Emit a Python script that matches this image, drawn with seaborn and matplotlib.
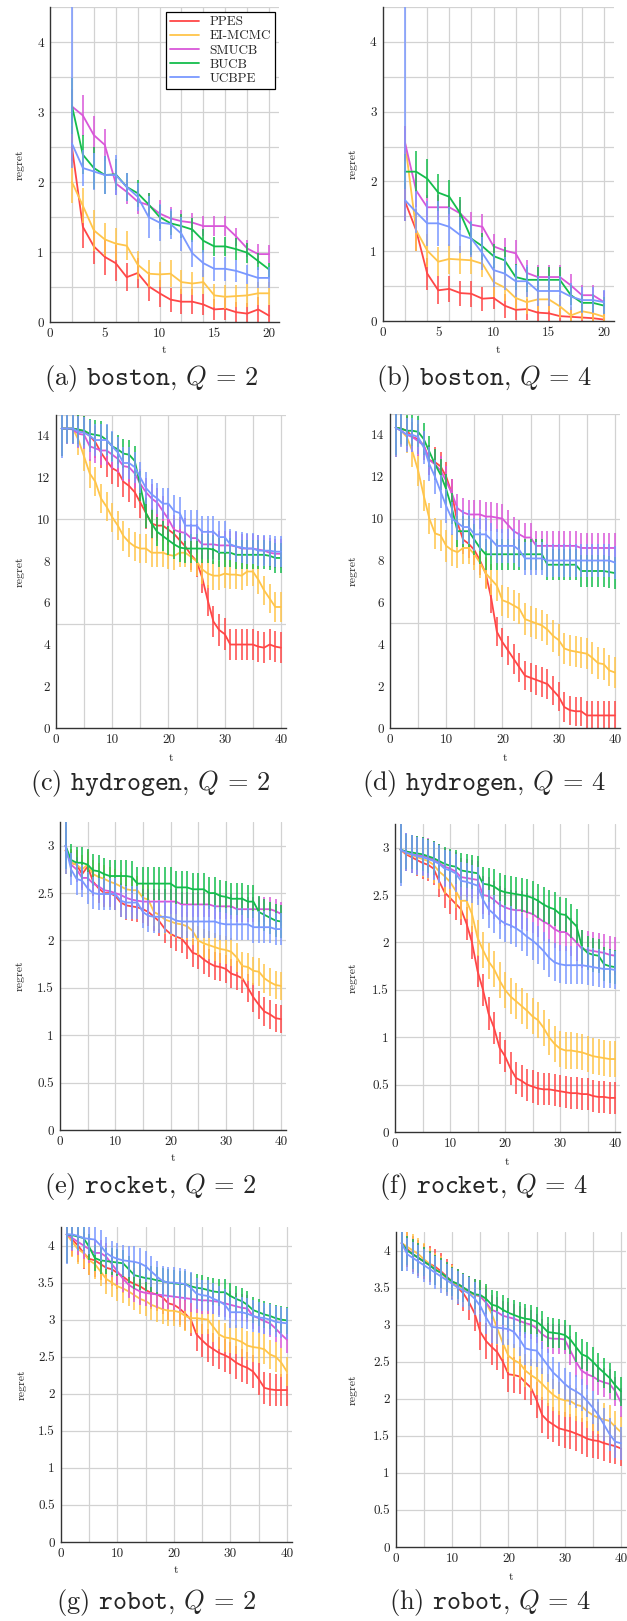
import numpy as np
import pandas as pd
import matplotlib
matplotlib.use("Agg")
import matplotlib.pyplot as plt
import seaborn as sns
from matplotlib.ticker import FuncFormatter

METHODS = ["PPES", "EI-MCMC", "SMUCB", "BUCB", "UCBPE"]
COLORS = {"PPES": "#ff4747", "EI-MCMC": "#ffc54a", "SMUCB": "#d957d9",
          "BUCB": "#14bd4c", "UCBPE": "#7a98ff"}

T_BOSTON = list(range(2, 21))
T_LONG = list(range(1, 41))

# ---------------- (a) boston, Q=2 ----------------
BOSTON_Q2 = {
    "PPES":    [2.50,1.36,1.08,0.93,0.84,0.64,0.70,0.51,0.41,0.32,0.29,0.29,0.25,0.18,0.19,0.14,0.12,0.18,0.09],
    "EI-MCMC": [2.00,1.66,1.31,1.18,1.12,1.09,0.82,0.69,0.68,0.69,0.57,0.55,0.57,0.38,0.36,0.37,0.38,0.41,0.41],
    "SMUCB":   [3.08,2.95,2.67,2.53,1.98,1.86,1.72,1.67,1.55,1.48,1.44,1.42,1.37,1.37,1.37,1.22,1.05,0.97,0.97],
    "BUCB":    [3.09,2.39,2.20,2.10,2.11,1.93,1.84,1.68,1.50,1.41,1.37,1.32,1.16,1.08,1.08,1.04,0.99,0.87,0.75],
    "UCBPE":   [2.55,2.20,2.15,2.10,2.10,1.93,1.79,1.50,1.42,1.40,1.26,0.98,0.84,0.76,0.76,0.73,0.68,0.63,0.63],
}
BOSTON_Q2_ERR = {
    "PPES":    [0.30,0.30,0.25,0.26,0.26,0.20,0.21,0.21,0.19,0.17,0.18,0.18,0.15,0.15,0.16,0.15,0.15,0.18,0.15],
    "EI-MCMC": [0.30,0.25,0.29,0.24,0.23,0.21,0.20,0.19,0.18,0.19,0.17,0.17,0.17,0.17,0.17,0.16,0.16,0.16,0.16],
    "SMUCB":   [0.25,0.29,0.27,0.23,0.17,0.17,0.18,0.17,0.19,0.17,0.16,0.14,0.14,0.14,0.14,0.13,0.12,0.14,0.13],
    "BUCB":    [0.40,0.28,0.30,0.27,0.22,0.20,0.19,0.17,0.17,0.17,0.17,0.17,0.17,0.14,0.14,0.16,0.14,0.12,0.10],
    "UCBPE":   [0.35,0.26,0.27,0.27,0.28,0.20,0.20,0.30,0.26,0.21,0.24,0.19,0.19,0.17,0.17,0.16,0.13,0.15,0.15],
}
BOSTON_Q2_FIRST_UPPER = {"UCBPE": 2.3}

# ---------------- (b) boston, Q=4 ----------------
BOSTON_Q4 = {
    "PPES":    [1.71,1.30,0.68,0.44,0.46,0.40,0.39,0.32,0.33,0.22,0.16,0.17,0.12,0.11,0.07,0.06,0.05,0.04,0.02],
    "EI-MCMC": [2.55,1.30,1.01,0.85,0.89,0.88,0.87,0.82,0.56,0.48,0.33,0.27,0.31,0.31,0.21,0.08,0.14,0.11,0.06],
    "SMUCB":   [2.55,1.87,1.63,1.63,1.63,1.54,1.38,1.35,1.07,1.01,0.97,0.69,0.63,0.63,0.63,0.51,0.37,0.37,0.27],
    "BUCB":    [2.14,2.14,2.04,1.84,1.78,1.54,1.18,1.07,0.93,0.87,0.63,0.59,0.59,0.59,0.59,0.37,0.26,0.26,0.22],
    "UCBPE":   [1.73,1.56,1.40,1.40,1.35,1.23,1.18,0.97,0.73,0.68,0.57,0.57,0.43,0.43,0.43,0.35,0.30,0.30,0.27],
}
BOSTON_Q4_ERR = {
    "PPES":    [0.27,0.30,0.23,0.20,0.19,0.18,0.19,0.17,0.16,0.17,0.15,0.15,0.14,0.13,0.12,0.11,0.10,0.10,0.09],
    "EI-MCMC": [0.25,0.30,0.24,0.21,0.21,0.20,0.20,0.19,0.21,0.20,0.16,0.17,0.17,0.17,0.16,0.12,0.13,0.13,0.10],
    "SMUCB":   [0.25,0.24,0.18,0.18,0.18,0.19,0.18,0.19,0.18,0.18,0.19,0.18,0.17,0.17,0.17,0.17,0.15,0.15,0.16],
    "BUCB":    [0.25,0.29,0.28,0.26,0.24,0.24,0.24,0.19,0.17,0.19,0.19,0.18,0.18,0.18,0.18,0.14,0.13,0.13,0.12],
    "UCBPE":   [0.30,0.30,0.32,0.32,0.28,0.26,0.26,0.24,0.24,0.24,0.23,0.23,0.21,0.21,0.21,0.19,0.19,0.19,0.17],
}
BOSTON_Q4_FIRST_UPPER = {"UCBPE": 3.0}

# ---------------- (c) hydrogen, Q=2 ----------------
HYDROGEN_Q2 = {
    "PPES":    [14.35,14.35,14.35,14.3,14.2,14.0,13.7,13.2,12.8,12.45,12.3,11.8,11.6,11.3,10.8,10.3,9.8,9.7,9.7,9.5,9.3,9.0,8.7,8.3,8.0,7.2,6.1,5.1,4.7,4.5,4.0,4.0,4.0,4.0,4.0,3.9,3.85,4.0,3.9,3.85],
    "EI-MCMC": [14.35,14.35,14.35,13.8,13.0,12.2,11.8,11.0,10.6,10.1,9.7,9.2,8.9,8.7,8.6,8.6,8.4,8.4,8.4,8.3,8.25,8.4,8.4,8.2,8.0,7.6,7.4,7.3,7.3,7.4,7.35,7.35,7.3,7.5,7.5,7.1,6.6,6.2,5.8,5.8],
    "SMUCB":   [14.35,14.35,14.3,14.1,14.05,13.5,13.4,13.3,13.3,13.1,12.9,12.55,12.5,12.2,11.7,11.3,11.0,10.8,10.4,10.0,9.5,9.4,9.35,9.1,9.1,8.8,8.8,8.8,8.75,8.75,8.75,8.7,8.6,8.6,8.6,8.55,8.5,8.4,8.35,8.35],
    "BUCB":    [14.35,14.35,14.35,14.3,14.25,14.1,14.05,14.0,13.8,13.5,13.35,13.15,13.1,12.8,11.6,10.3,9.8,9.4,9.2,9.0,8.8,8.65,8.6,8.6,8.6,8.6,8.6,8.55,8.4,8.4,8.4,8.3,8.3,8.3,8.3,8.3,8.3,8.25,8.15,8.15],
    "UCBPE":   [14.35,14.35,14.35,14.2,14.15,14.0,13.8,13.8,13.8,13.5,13.2,12.7,12.7,12.5,12.0,11.5,11.2,11.0,10.75,10.75,10.4,10.3,9.7,9.7,9.7,9.4,9.4,9.4,9.15,9.15,8.8,8.7,8.65,8.6,8.6,8.5,8.5,8.5,8.45,8.45],
}
HYDROGEN_Q2_ERR = {"PPES": (1.3, 0.75), "EI-MCMC": (1.3, 0.7), "SMUCB": (1.3, 0.7),
                   "BUCB": (1.3, 0.7), "UCBPE": (1.4, 0.75)}

# ---------------- (d) hydrogen, Q=4 ----------------
HYDROGEN_Q4 = {
    "PPES":    [14.35,14.3,14.2,13.9,13.8,13.5,12.8,12.7,12.5,12.0,11.2,9.8,9.0,8.8,8.5,8.0,7.4,6.2,4.6,4.1,3.7,3.3,2.9,2.5,2.4,2.3,2.2,2.1,1.8,1.5,1.0,0.85,0.8,0.8,0.6,0.6,0.6,0.6,0.6,0.6],
    "EI-MCMC": [14.35,14.2,13.9,13.2,12.3,11.1,10.0,9.3,9.2,8.7,8.5,8.4,8.6,8.6,8.3,7.9,7.4,7.1,6.8,6.1,6.0,5.85,5.7,5.2,5.1,5.0,4.9,4.7,4.4,4.2,3.8,3.7,3.65,3.6,3.55,3.35,3.1,3.05,2.75,2.65],
    "SMUCB":   [14.35,14.2,14.0,13.9,13.7,13.5,12.8,12.6,12.3,11.8,11.2,10.5,10.3,10.2,10.2,10.2,10.1,10.1,10.05,10.0,9.7,9.4,9.25,9.1,9.1,8.7,8.7,8.7,8.7,8.7,8.7,8.7,8.7,8.6,8.6,8.6,8.6,8.6,8.6,8.6],
    "BUCB":    [14.35,14.3,14.2,14.2,14.15,13.8,13.2,12.6,12.1,11.4,10.5,9.4,9.4,9.4,9.0,8.6,8.3,8.3,8.3,8.3,8.3,8.3,8.3,8.3,8.3,8.3,8.3,7.8,7.8,7.8,7.8,7.8,7.8,7.5,7.5,7.5,7.5,7.5,7.45,7.4],
    "UCBPE":   [14.35,14.2,14.0,14.0,13.9,13.4,12.6,12.0,11.3,10.6,10.0,9.8,9.6,9.6,9.25,9.25,9.25,9.0,8.7,8.7,8.7,8.7,8.5,8.1,8.1,8.1,8.1,8.0,8.0,8.0,8.0,8.0,8.0,8.0,8.0,8.0,8.0,8.0,8.0,7.9],
}
HYDROGEN_Q4_ERR = {"PPES": (1.4, 0.7), "EI-MCMC": (1.3, 0.75), "SMUCB": (1.3, 0.7),
                   "BUCB": (1.3, 0.75), "UCBPE": (1.4, 0.8)}

# ---------------- (e) rocket, Q=2 ----------------
ROCKET_Q2 = {
    "PPES":    [2.95,2.82,2.8,2.7,2.78,2.62,2.55,2.5,2.5,2.47,2.4,2.37,2.36,2.35,2.33,2.3,2.25,2.2,2.12,2.07,2.04,2.02,1.95,1.87,1.85,1.8,1.76,1.73,1.72,1.7,1.65,1.63,1.6,1.5,1.4,1.32,1.25,1.22,1.18,1.17],
    "EI-MCMC": [2.95,2.82,2.8,2.75,2.8,2.7,2.67,2.65,2.62,2.6,2.57,2.54,2.53,2.53,2.45,2.43,2.3,2.27,2.22,2.2,2.18,2.17,2.15,2.1,2.0,1.97,1.95,1.93,1.91,1.9,1.88,1.82,1.73,1.72,1.68,1.67,1.6,1.56,1.53,1.52],
    "SMUCB":   [3.0,2.8,2.75,2.66,2.66,2.6,2.57,2.53,2.52,2.5,2.48,2.45,2.43,2.42,2.41,2.41,2.41,2.41,2.41,2.41,2.41,2.38,2.38,2.38,2.38,2.38,2.38,2.36,2.36,2.36,2.36,2.33,2.33,2.33,2.33,2.33,2.33,2.33,2.31,2.28],
    "BUCB":    [3.0,2.85,2.82,2.82,2.8,2.74,2.73,2.7,2.68,2.68,2.68,2.68,2.67,2.6,2.6,2.6,2.6,2.6,2.6,2.6,2.56,2.56,2.56,2.54,2.54,2.54,2.5,2.5,2.47,2.46,2.44,2.44,2.44,2.41,2.41,2.3,2.27,2.24,2.21,2.2],
    "UCBPE":   [3.0,2.75,2.65,2.63,2.55,2.5,2.49,2.49,2.49,2.49,2.42,2.4,2.4,2.4,2.3,2.26,2.25,2.25,2.25,2.24,2.21,2.2,2.2,2.2,2.2,2.2,2.2,2.2,2.18,2.17,2.17,2.17,2.17,2.17,2.14,2.14,2.14,2.14,2.12,2.12],
}
ROCKET_Q2_ERR = {"PPES": (0.25, 0.15), "EI-MCMC": (0.25, 0.15), "SMUCB": (0.25, 0.13),
                 "BUCB": (0.25, 0.17), "UCBPE": (0.3, 0.17)}

# ---------------- (f) rocket, Q=4 ----------------
ROCKET_Q4 = {
    "PPES":    [2.98,2.93,2.9,2.87,2.84,2.82,2.78,2.65,2.53,2.47,2.41,2.35,2.2,2.0,1.7,1.5,1.25,1.1,0.89,0.8,0.67,0.57,0.54,0.5,0.48,0.46,0.45,0.45,0.44,0.43,0.42,0.41,0.41,0.4,0.4,0.38,0.37,0.37,0.36,0.36],
    "EI-MCMC": [2.98,2.94,2.92,2.9,2.88,2.86,2.82,2.75,2.7,2.64,2.55,2.44,2.44,2.3,2.05,1.92,1.8,1.72,1.6,1.5,1.43,1.38,1.33,1.28,1.22,1.18,1.1,1.0,0.93,0.88,0.86,0.86,0.85,0.84,0.82,0.8,0.79,0.78,0.77,0.77],
    "SMUCB":   [2.98,2.95,2.93,2.92,2.91,2.9,2.87,2.84,2.8,2.78,2.75,2.69,2.68,2.67,2.66,2.5,2.49,2.45,2.4,2.37,2.35,2.34,2.34,2.32,2.3,2.26,2.22,2.19,2.14,2.11,2.11,2.06,2.0,1.93,1.92,1.91,1.9,1.89,1.87,1.86],
    "BUCB":    [2.98,2.96,2.95,2.94,2.93,2.91,2.89,2.86,2.83,2.81,2.8,2.76,2.75,2.74,2.73,2.62,2.61,2.59,2.55,2.53,2.52,2.51,2.5,2.49,2.47,2.44,2.4,2.37,2.35,2.3,2.29,2.23,2.17,1.95,1.89,1.87,1.86,1.77,1.75,1.74],
    "UCBPE":   [2.98,2.95,2.93,2.91,2.9,2.88,2.86,2.83,2.78,2.76,2.73,2.65,2.64,2.62,2.6,2.45,2.35,2.3,2.24,2.2,2.18,2.15,2.11,2.06,2.02,1.97,1.91,1.84,1.79,1.77,1.76,1.76,1.76,1.76,1.75,1.74,1.73,1.72,1.72,1.71],
}
ROCKET_Q4_ERR = {"PPES": (0.35, 0.17), "EI-MCMC": (0.35, 0.19), "SMUCB": (0.35, 0.2),
                 "BUCB": (0.35, 0.18), "UCBPE": (0.38, 0.2)}

# ---------------- (g) robot, Q=2 ----------------
ROBOT_Q2 = {
    "PPES":    [4.15,4.08,4.0,3.9,3.82,3.8,3.75,3.7,3.68,3.63,3.58,3.52,3.48,3.45,3.4,3.36,3.34,3.3,3.22,3.2,3.15,3.08,3.0,2.8,2.72,2.65,2.6,2.55,2.52,2.48,2.42,2.38,2.35,2.3,2.2,2.08,2.06,2.05,2.05,2.05],
    "EI-MCMC": [4.15,4.05,3.95,3.9,3.8,3.75,3.65,3.55,3.5,3.45,3.42,3.38,3.33,3.28,3.25,3.2,3.17,3.14,3.12,3.12,3.1,3.05,3.02,3.02,3.01,3.0,2.9,2.8,2.76,2.75,2.73,2.7,2.65,2.63,2.62,2.6,2.53,2.5,2.42,2.3],
    "SMUCB":   [4.15,4.1,4.05,4.0,3.95,3.9,3.9,3.85,3.75,3.65,3.55,3.47,3.42,3.38,3.36,3.35,3.34,3.33,3.32,3.31,3.3,3.29,3.28,3.27,3.26,3.26,3.25,3.24,3.22,3.2,3.18,3.16,3.15,3.05,3.02,2.98,2.95,2.88,2.8,2.73],
    "BUCB":    [4.15,4.14,4.12,4.1,3.98,3.83,3.8,3.79,3.78,3.77,3.76,3.68,3.6,3.58,3.56,3.55,3.53,3.52,3.5,3.49,3.48,3.48,3.45,3.43,3.42,3.4,3.38,3.37,3.37,3.32,3.28,3.25,3.2,3.13,3.1,3.07,3.05,3.02,3.0,2.99],
    "UCBPE":   [4.15,4.15,4.13,4.1,4.09,4.08,4.0,3.9,3.85,3.82,3.8,3.79,3.78,3.76,3.72,3.65,3.58,3.52,3.5,3.5,3.49,3.48,3.43,3.35,3.33,3.32,3.28,3.25,3.2,3.1,3.1,3.1,3.08,3.05,3.03,3.02,3.0,2.97,2.96,2.95],
}
ROBOT_Q2_ERR = {"PPES": (0.38, 0.22), "EI-MCMC": (0.38, 0.2), "SMUCB": (0.38, 0.18),
                "BUCB": (0.38, 0.18), "UCBPE": (0.4, 0.21)}

# ---------------- (h) robot, Q=4 ----------------
ROBOT_Q4 = {
    "PPES":    [4.1,4.02,3.95,3.9,3.85,3.82,3.78,3.72,3.65,3.58,3.5,3.42,3.3,3.15,2.9,2.78,2.7,2.63,2.5,2.33,2.32,2.3,2.22,2.15,1.98,1.78,1.7,1.65,1.6,1.58,1.56,1.53,1.5,1.46,1.44,1.43,1.4,1.38,1.36,1.33],
    "EI-MCMC": [4.1,4.05,4.0,3.95,3.88,3.82,3.75,3.7,3.62,3.58,3.53,3.48,3.42,3.4,3.38,3.3,3.15,2.95,2.75,2.58,2.52,2.48,2.38,2.32,2.27,2.2,2.12,2.05,2.0,1.98,1.97,1.92,1.9,1.83,1.78,1.74,1.72,1.7,1.62,1.55],
    "SMUCB":   [4.1,4.0,3.95,3.9,3.85,3.8,3.74,3.7,3.64,3.58,3.55,3.5,3.45,3.41,3.38,3.3,3.2,3.17,3.12,3.1,3.08,3.05,3.02,3.0,2.95,2.87,2.82,2.81,2.81,2.8,2.65,2.5,2.38,2.33,2.3,2.25,2.22,2.2,2.1,1.95],
    "BUCB":    [4.1,4.0,3.95,3.9,3.85,3.8,3.74,3.7,3.64,3.58,3.55,3.5,3.45,3.41,3.4,3.35,3.27,3.25,3.2,3.16,3.13,3.1,3.08,3.07,3.04,2.98,2.9,2.89,2.88,2.86,2.8,2.7,2.6,2.57,2.5,2.42,2.35,2.28,2.18,2.1],
    "UCBPE":   [4.1,3.95,3.9,3.85,3.8,3.75,3.7,3.65,3.6,3.55,3.5,3.46,3.42,3.35,3.25,3.1,2.97,2.96,2.95,2.94,2.9,2.8,2.68,2.66,2.65,2.55,2.45,2.35,2.28,2.2,2.14,2.1,2.05,1.97,1.88,1.78,1.65,1.52,1.42,1.4],
}
ROBOT_Q4_ERR = {"PPES": (0.38, 0.24), "EI-MCMC": (0.38, 0.22), "SMUCB": (0.38, 0.2),
                "BUCB": (0.38, 0.2), "UCBPE": (0.38, 0.22)}

CAPTIONS = [r"(a) $\mathtt{boston}$, $Q\,=\,2$", r"(b) $\mathtt{boston}$, $Q\,=\,4$",
            r"(c) $\mathtt{hydrogen}$, $Q\,=\,2$", r"(d) $\mathtt{hydrogen}$, $Q\,=\,4$",
            r"(e) $\mathtt{rocket}$, $Q\,=\,2$", r"(f) $\mathtt{rocket}$, $Q\,=\,4$",
            r"(g) $\mathtt{robot}$, $Q\,=\,2$", r"(h) $\mathtt{robot}$, $Q\,=\,4$"]

# ---------------- styling ----------------
sns.set_theme(style="white")
plt.rcParams["font.family"] = ["cmr10", "DejaVu Serif"]
plt.rcParams["mathtext.fontset"] = "cm"
plt.rcParams["axes.formatter.use_mathtext"] = True
plt.rcParams["axes.unicode_minus"] = False

W, H = 627, 1621
fig = plt.figure(figsize=(W / 100, H / 100), dpi=100)
fig.patch.set_facecolor("white")


def expand_err(spec, n):
    if isinstance(spec, tuple):
        return [spec[0]] + [spec[1]] * (n - 1)
    return list(spec)


panels = [
    (BOSTON_Q2, BOSTON_Q2_ERR, BOSTON_Q2_FIRST_UPPER, T_BOSTON, (50, 279, 7, 322), 4.5,
     [0, 5, 10, 15, 20], [0, 1, 2, 3, 4], list(range(2, 21, 2)), list(np.arange(0.5, 4.6, 0.5)), 30, 350, (151, 378)),
    (BOSTON_Q4, BOSTON_Q4_ERR, BOSTON_Q4_FIRST_UPPER, T_BOSTON, (383, 614, 7, 321), 4.5,
     [0, 5, 10, 15, 20], [0, 1, 2, 3, 4], list(range(2, 21, 2)), list(np.arange(0.5, 4.6, 0.5)), 30, 350, (484, 378)),
    (HYDROGEN_Q2, HYDROGEN_Q2_ERR, {}, T_LONG, (56, 286, 415, 728), 15,
     [0, 10, 20, 30, 40], list(range(0, 15, 2)), list(range(5, 41, 5)), [5, 10, 15], 36, 758, (150, 784)),
    (HYDROGEN_Q4, HYDROGEN_Q4_ERR, {}, T_LONG, (390, 620, 414, 728), 15,
     [0, 10, 20, 30, 40], list(range(0, 15, 2)), list(range(5, 41, 5)), [5, 10, 15], 37, 758, (484, 784)),
    (ROCKET_Q2, ROCKET_Q2_ERR, {}, T_LONG, (60, 286, 822, 1130), 3.25,
     [0, 10, 20, 30, 40], list(np.arange(0, 3.01, 0.5)), list(range(5, 41, 5)), list(np.arange(0.5, 3.1, 0.5)), 40, 1158, (150, 1187)),
    (ROCKET_Q4, ROCKET_Q4_ERR, {}, T_LONG, (395, 620, 824, 1132), 3.25,
     [0, 10, 20, 30, 40], list(np.arange(0, 3.01, 0.5)), list(range(5, 41, 5)), list(np.arange(0.5, 3.1, 0.5)), 42, 1162, (484, 1187)),
    (ROBOT_Q2, ROBOT_Q2_ERR, {}, T_LONG, (61, 292, 1227, 1542), 4.25,
     [0, 10, 20, 30, 40], list(np.arange(0, 4.01, 0.5)), list(range(5, 41, 5)), list(np.arange(0.5, 4.1, 0.5)), 39, 1570, (156, 1603)),
    (ROBOT_Q4, ROBOT_Q4_ERR, {}, T_LONG, (396, 626, 1232, 1547), 4.25,
     [0, 10, 20, 30, 40], list(np.arange(0, 4.01, 0.5)), list(range(5, 41, 5)), list(np.arange(0.5, 4.1, 0.5)), 43, 1577, (490, 1603)),
]

fmt = FuncFormatter(lambda v, p: f"{v:g}")

for idx, (data, errs, first_up, ts, rect, ytop, xt, yt, xg, yg, ylab_off, xlab_y, cap) in enumerate(panels):
    L, R, T, B = rect
    ax = fig.add_axes([L / W, 1 - B / H, (R - L) / W, (B - T) / H])
    xmax = 20.9 if ts is T_BOSTON else 40.9
    ax.set_xlim(0, xmax)
    ax.set_ylim(0, ytop)

    for m in METHODS:
        vals = np.array(data[m], dtype=float)
        e = np.array(expand_err(errs[m], len(vals)), dtype=float)
        lo = vals - e
        hi = vals + e
        if m in first_up:
            hi[0] = vals[0] + first_up[m]
        df = pd.DataFrame({"t": ts, "regret": vals})
        ax.vlines(ts, lo, hi, color=COLORS[m], lw=1.3, alpha=0.85)
        sns.lineplot(data=df, x="t", y="regret", ax=ax, color=COLORS[m], lw=1.3,
                     label=m, legend=False, errorbar=None)

    ax.set_xticks(xt)
    ax.set_yticks(yt)
    ax.xaxis.set_major_formatter(fmt)
    ax.yaxis.set_major_formatter(fmt)
    ax.xaxis.remove_overlapping_locs = False
    ax.yaxis.remove_overlapping_locs = False
    ax.set_xticks(xg, minor=True)
    ax.set_yticks(yg, minor=True)
    ax.grid(False, which="major")
    ax.grid(True, which="minor", color="#d2d2d2", lw=0.9)
    ax.set_axisbelow(True)
    ax.tick_params(which="minor", length=0)
    ax.tick_params(which="major", length=2.5, width=0.6, color="#555555", labelsize=9.5,
                   pad=2, direction="out")
    for s in ["top", "right"]:
        ax.spines[s].set_visible(False)
    for s in ["left", "bottom"]:
        ax.spines[s].set_color("#333333")
        ax.spines[s].set_linewidth(1.0)

    ax.set_xlabel("t", fontsize=8.5)
    ax.set_ylabel("regret", fontsize=8.5)
    ax.xaxis.label.set_va("center")
    ax.yaxis.label.set_va("center")
    ax.xaxis.set_label_coords(0.5, -(xlab_y - B) / (B - T))
    ax.yaxis.set_label_coords(-ylab_off / (R - L), 0.5)

    if idx == 0:
        leg = ax.legend(loc="upper right", bbox_to_anchor=(0.983, 0.984), borderaxespad=0,
                        fontsize=9.5, frameon=True, fancybox=False, edgecolor="black",
                        framealpha=1, handlelength=2.2, borderpad=0.3, labelspacing=0.15,
                        handletextpad=0.8)
        leg.get_frame().set_linewidth(0.9)

    fig.text(cap[0] / W, 1 - cap[1] / H, CAPTIONS[idx], ha="center", va="center", fontsize=19)

fig.savefig("out.png", dpi=100, facecolor="white")
